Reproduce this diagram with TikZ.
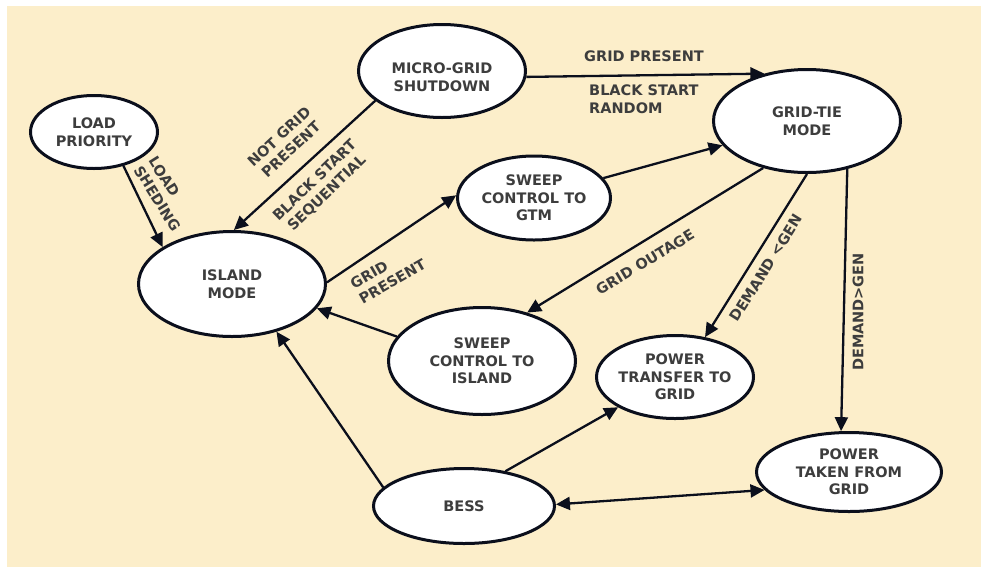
\documentclass[tikz,border=0pt]{standalone}
\usepackage{fontspec}
\setmainfont{DejaVu Sans}
\usetikzlibrary{arrows.meta,shapes.geometric}
\definecolor{paper}{HTML}{FCEECA}
\definecolor{ink}{HTML}{0B0F1C}
\definecolor{txtgray}{HTML}{3D3D3D}
\begin{document}
\begin{tikzpicture}[x=1pt,y=-1pt,
  state/.style 2 args={ellipse, draw=ink, line width=3pt, fill=white,
    minimum width=#1, minimum height=#2, inner sep=0pt},
  stxt/.style={text=txtgray, font=\fontsize{14.5}{17.5}\selectfont\bfseries,
    align=center, inner sep=0pt},
  lbl/.style={text=txtgray, font=\fontsize{14.5}{17.5}\selectfont\bfseries,
    inner sep=0pt},
  tip/.tip={Triangle[length=14pt,width=13pt]},
  conn/.style={draw=ink, line width=2.3pt, -tip},
]
\useasboundingbox (0,0) rectangle (981,571);
\fill[white] (0,0) rectangle (981,571);
\fill[paper] (7,6) rectangle (981,567);

% states
\node[state={127pt}{73pt}]  (lp)   at (94,132)  {};
\node[state={167pt}{93pt}]  (mg)   at (442,71)  {};
\node[state={187pt}{103pt}] (gtm)  at (807,121) {};
\node[state={187pt}{105pt}] (is)   at (232,284) {};
\node[state={153pt}{84pt}]  (sg)   at (534,198) {};
\node[state={187pt}{107pt}] (si)   at (482,361) {};
\node[state={157pt}{83pt}]  (pt)   at (675,377) {};
\node[state={185pt}{79pt}]  (ptf)  at (849,472) {};
\node[state={181pt}{75pt}]  (bess) at (464,506) {};

\node[stxt] (lp-t)   at (lp)   {LOAD\\PRIORITY};
\node[stxt] (mg-t)   at ([yshift=-6pt]mg.center) {MICRO-GRID\\SHUTDOWN};
\node[stxt] (gtm-t)  at (gtm)  {GRID-TIE\\MODE};
\node[stxt] (is-t)   at (is)   {ISLAND\\MODE};
\node[stxt] (sg-t)   at (sg)   {SWEEP\\CONTROL TO\\GTM};
\node[stxt] (si-t)   at (si)   {SWEEP\\CONTROL TO\\ISLAND};
\node[stxt] (pt-t)   at (pt)   {POWER\\TRANSFER TO\\GRID};
\node[stxt] (ptf-t)  at (ptf)  {POWER\\TAKEN FROM\\GRID};
\node[stxt] (bess-t) at (bess) {BESS};

% transitions
\draw[conn] (lp.-49)  -- (is.152);
\draw[conn] (mg.204)  -- (is.88);
\draw[conn] (mg.-4)   -- (gtm.132);
\draw[conn] (is.1)    -- (sg.178);
\draw[conn] (sg.16)   -- (gtm.196);
\draw[conn] (gtm.227) -- (si.47);
\draw[conn] (gtm.-90) -- (pt.53);
\draw[conn] (gtm.-50) -- (ptf.101);
\draw[conn] (si.164)  -- (is.-16);
\draw[conn] (bess.167) -- (is.-47);
\draw[conn] (bess.40) -- (pt.208);
\draw[conn, tip-tip] (bess.1) -- (ptf.192);

% transition labels
\node[lbl, align=left, rotate=-58]  (l1) at (165,194) {LOAD\\SHEDING};
\node[lbl, align=center, rotate=43] (l2) at (285,143) {NOT GRID\\PRESENT};
\node[lbl, align=center, rotate=44] (l3) at (321,187) {BLACK START\\SEQUENTIAL};
\node[lbl] (l4) at (644,56) {GRID PRESENT};
\node[lbl, align=left, anchor=west] (l5) at (589,99) {BLACK START\\RANDOM};
\node[lbl, align=left, rotate=30] (l6) at (388,274) {GRID\\PRESENT};
\node[lbl, rotate=31] (l7) at (645,262) {GRID OUTAGE};
\node[lbl, rotate=58] (l8) at (766,268) {DEMAND <GEN};
\node[lbl, rotate=90] (l9) at (858,312) {DEMAND>GEN};
\end{tikzpicture}
\end{document}
